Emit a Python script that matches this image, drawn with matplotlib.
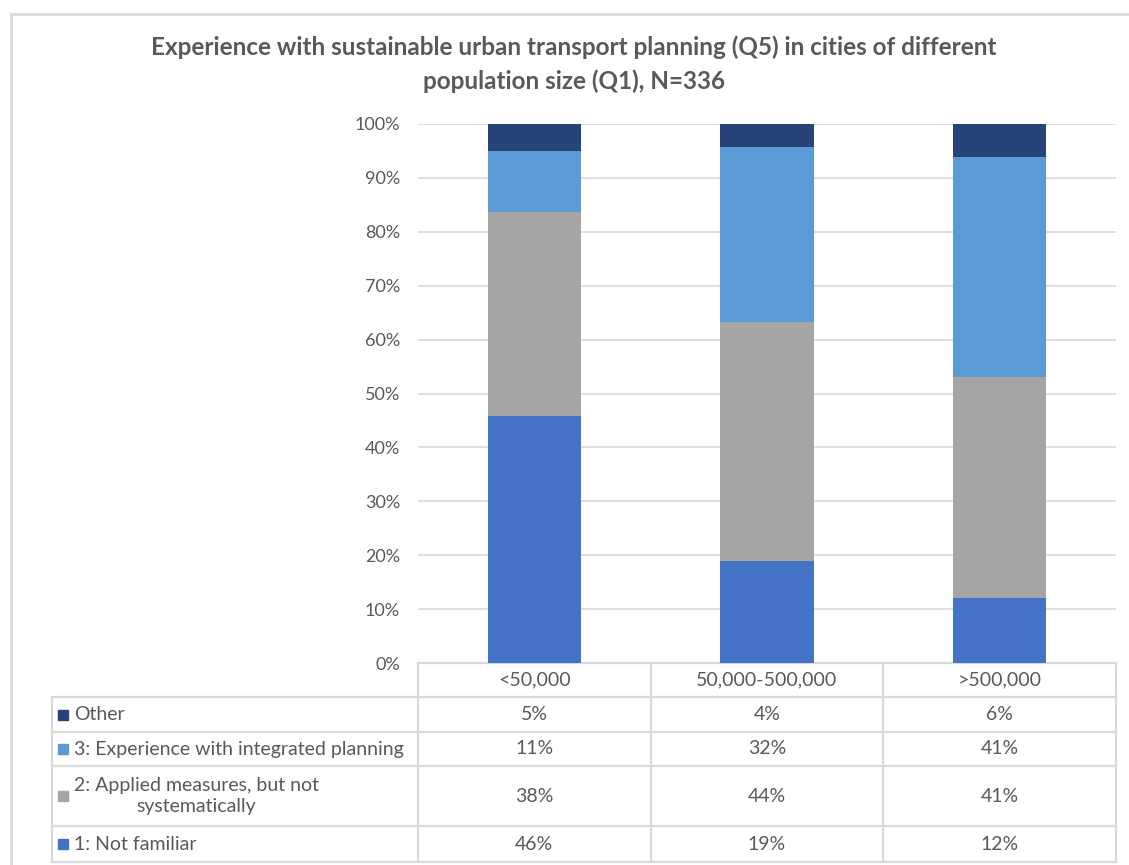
import numpy as np
import matplotlib
matplotlib.use("Agg")
import matplotlib.pyplot as plt
from matplotlib.patches import Rectangle

plt.rcParams['font.family'] = ['Lato', 'DejaVu Sans']

categories = ["<50,000", "50,000-500,000", ">500,000"]
series_names = ["1: Not familiar",
                "2: Applied measures, but not\nsystematically",
                "3: Experience with integrated planning",
                "Other"]
not_familiar = [45.9, 18.9, 12.1]
applied = [37.7, 44.4, 40.9]
integrated = [11.4, 32.4, 40.9]
other = [5.0, 4.3, 6.1]
colors = ["#4472C4", "#A5A5A5", "#5B9BD5", "#264478"]

values = [not_familiar, applied, integrated, other]
txt = "#595959"
line_c = "#D9D9D9"

W, H = 1129, 865
fig = plt.figure(figsize=(W / 100, H / 100), dpi=100)

# pixel helper axes for frame, title and table
pix = fig.add_axes([0, 0, 1, 1])
pix.set_xlim(0, W)
pix.set_ylim(H, 0)
pix.axis("off")

# chart frame
pix.plot([11, 11, W + 5], [H + 5, 14, 14], color=line_c, lw=2, solid_joinstyle="miter")

pix.text(574, 47, "Experience with sustainable urban transport planning (Q5) in cities of different",
         ha="center", va="center", fontsize=17.5, fontweight="bold", color=txt)
pix.text(574, 81, "population size (Q1), N=336",
         ha="center", va="center", fontsize=17.5, fontweight="bold", color=txt)

# bar axes
x0, x1, y0, y1 = 418, 1116, 124, 663
ax = fig.add_axes([x0 / W, 1 - y1 / H, (x1 - x0) / W, (y1 - y0) / H])
x = np.arange(len(categories))
bottom = np.zeros(len(categories))
for vals, c in zip(values, colors):
    ax.bar(x, vals, 0.4, bottom=bottom, color=c, zorder=3)
    bottom += np.array(vals)
ax.set_xlim(-0.5, len(categories) - 0.5)
ax.set_ylim(0, 100)
ax.set_yticks(np.arange(0, 101, 10))
ax.set_yticklabels([f"{v}%" for v in range(0, 101, 10)])
ax.tick_params(axis="y", length=0, labelsize=13, labelcolor=txt, pad=13)
ax.set_xticks([])
ax.grid(axis="y", color=line_c, lw=1.2, zorder=0)
for s in ax.spines.values():
    s.set_visible(False)
ax.patch.set_alpha(0)

# data table
row_lines = [663, 697, 732, 766, 826, 862]
tl, tr = 52, x1
col_edges = np.linspace(x0, x1, len(categories) + 1)
lw = 1.6
# horizontal lines
pix.plot([x0, tr], [row_lines[0]] * 2, color=line_c, lw=lw)
for y in row_lines[1:]:
    pix.plot([tl, tr], [y, y], color=line_c, lw=lw)
# vertical lines
pix.plot([tl, tl], [row_lines[1], row_lines[-1]], color=line_c, lw=lw)
for xe in col_edges:
    pix.plot([xe, xe], [row_lines[0], row_lines[-1]], color=line_c, lw=lw)

centers = (col_edges[:-1] + col_edges[1:]) / 2
for cx, cat in zip(centers, categories):
    pix.text(cx, (row_lines[0] + row_lines[1]) / 2, cat, ha="center", va="center",
             fontsize=14, color=txt)

# rows top-down: Other, 3, 2, 1
order = [3, 2, 1, 0]
for r, si in enumerate(order):
    ymid = (row_lines[r + 1] + row_lines[r + 2]) / 2
    pix.add_patch(Rectangle((58, ymid - 5), 10, 10, color=colors[si]))
    pix.text(74, ymid, series_names[si], ha="left", va="center", fontsize=14,
             color=txt, multialignment="center", linespacing=1.35)
    for cx, v in zip(centers, values[si]):
        pix.text(cx, ymid, f"{round(v):.0f}%", ha="center", va="center",
                 fontsize=14, color=txt)

fig.savefig("out.png", dpi=100)
